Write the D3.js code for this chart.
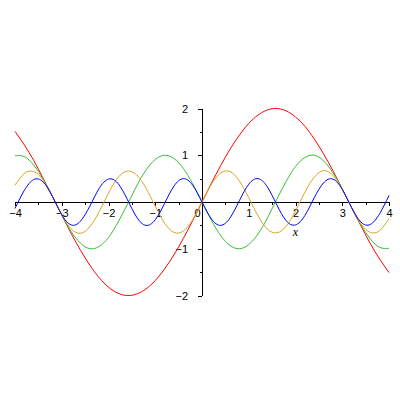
<!DOCTYPE html>
<html>
<head>
<meta charset="utf-8">
<script src="https://cdn.jsdelivr.net/npm/d3@7"></script>
<style>
  body { margin: 0; background: #fff; }
  svg { display: block; }
  .tick text { font-family: "Liberation Sans", Arial, sans-serif; font-size: 11px; fill: #000; }
</style>
</head>
<body>
<div class="plot"></div>
<script>
// sample positions along x
const xs = [-4, -3.8, -3.6, -3.4, -3.2, -3, -2.8, -2.6, -2.4, -2.2, -2, -1.8, -1.6, -1.4, -1.2, -1, -0.8, -0.6, -0.4, -0.2,
  0, 0.2, 0.4, 0.6, 0.8, 1, 1.2, 1.4, 1.6, 1.8, 2, 2.2, 2.4, 2.6, 2.8, 3, 3.2, 3.4, 3.6, 3.8, 4];

// curve values
const redVals = [1.51, 1.22, 0.89, 0.51, 0.12, -0.28, -0.67, -1.03, -1.35, -1.62, -1.82, -1.95, -2.0, -1.97, -1.86, -1.68, -1.43, -1.13, -0.78, -0.4,
  0, 0.4, 0.78, 1.13, 1.43, 1.68, 1.86, 1.97, 2.0, 1.95, 1.82, 1.62, 1.35, 1.03, 0.67, 0.28, -0.12, -0.51, -0.89, -1.22, -1.51];
const greenVals = [0.99, 0.97, 0.79, 0.49, 0.12, -0.28, -0.63, -0.88, -1.0, -0.95, -0.76, -0.44, -0.06, 0.34, 0.68, 0.91, 1.0, 0.93, 0.72, 0.39,
  0, -0.39, -0.72, -0.93, -1.0, -0.91, -0.68, -0.34, 0.06, 0.44, 0.76, 0.95, 1.0, 0.88, 0.63, 0.28, -0.12, -0.49, -0.79, -0.97, -0.99];
const orangeVals = [0.36, 0.61, 0.65, 0.47, 0.12, -0.27, -0.57, -0.67, -0.53, -0.21, 0.19, 0.52, 0.66, 0.58, 0.3, -0.09, -0.45, -0.65, -0.62, -0.38,
  0, 0.38, 0.62, 0.65, 0.45, 0.09, -0.3, -0.58, -0.66, -0.52, -0.19, 0.21, 0.53, 0.67, 0.57, 0.27, -0.12, -0.47, -0.65, -0.61, -0.36];
const blueVals = [-0.14, 0.25, 0.48, 0.43, 0.12, -0.27, -0.49, -0.41, -0.09, 0.29, 0.49, 0.4, 0.06, -0.32, -0.5, -0.38, -0.03, 0.34, 0.5, 0.36,
  0, -0.36, -0.5, -0.34, 0.03, 0.38, 0.5, 0.32, -0.06, -0.4, -0.49, -0.29, 0.09, 0.41, 0.49, 0.27, -0.12, -0.43, -0.48, -0.25, 0.14];

// axis ticks
const xTicks = [-4, -3, -2, -1, 0, 1, 2, 3, 4];
const xMinor = [-3.5, -2.5, -1.5, -0.5, 0.5, 1.5, 2.5, 3.5];
const yTicks = [-2, -1, 1, 2];
const yMinor = [-1.5, -0.5, 0.5, 1.5];

const width = 400, height = 400;

const svg = d3
  .select(".plot")
  .append("svg")
  .attr("width", width)
  .attr("height", height);

const x = d3.scaleLinear().domain([-4, 4]).range([15, 389]);
const y = d3.scaleLinear().domain([-2, 2]).range([295.5, 108.5]);

const fmt = d => (d < 0 ? "\u2212" + Math.abs(d) : String(d));

// x axis
const xAxis = svg.append("g").attr("transform", `translate(0,${y(0)})`);
xAxis.call(d3.axisBottom(x).tickValues(xTicks).tickSize(4).tickSizeOuter(0).tickPadding(3).tickFormat(fmt));
xAxis.selectAll(".tick text").filter(d => d === 0).attr("dx", -5);
svg.append("g")
  .attr("transform", `translate(0,${y(0)})`)
  .call(d3.axisBottom(x).tickValues(xMinor).tickSize(3).tickFormat(""))
  .select(".domain").remove();

// y axis
const yAxis = svg.append("g").attr("transform", `translate(${x(0)},0)`);
yAxis.call(d3.axisLeft(y).tickValues(yTicks).tickSize(4).tickSizeOuter(0).tickPadding(10).tickFormat(fmt));
svg.append("g")
  .attr("transform", `translate(${x(0)},0)`)
  .call(d3.axisLeft(y).tickValues(yMinor).tickSize(2).tickFormat(""))
  .select(".domain").remove();

svg.selectAll(".domain, .tick line").attr("stroke", "#000").attr("shape-rendering", "crispEdges");

// axis name
svg.append("text")
  .attr("x", x(2))
  .attr("y", 236)
  .attr("text-anchor", "middle")
  .style("font-family", "'Liberation Serif', serif")
  .style("font-style", "italic")
  .style("font-size", "12px")
  .text("x");

// curves
const series = [
  { vals: redVals, color: "#ff0000" },
  { vals: greenVals, color: "#33c033" },
  { vals: orangeVals, color: "#daa520" },
  { vals: blueVals, color: "#0000ff" },
];

const line = d3.line()
  .x(d => x(d[0]))
  .y(d => y(d[1]))
  .curve(d3.curveNatural);

series.forEach(s => {
  svg.append("path")
    .datum(xs.map((v, i) => [v, s.vals[i]]))
    .attr("fill", "none")
    .attr("stroke", s.color)
    .attr("stroke-width", 1)
    .attr("d", line);
});
</script>
</body>
</html>
